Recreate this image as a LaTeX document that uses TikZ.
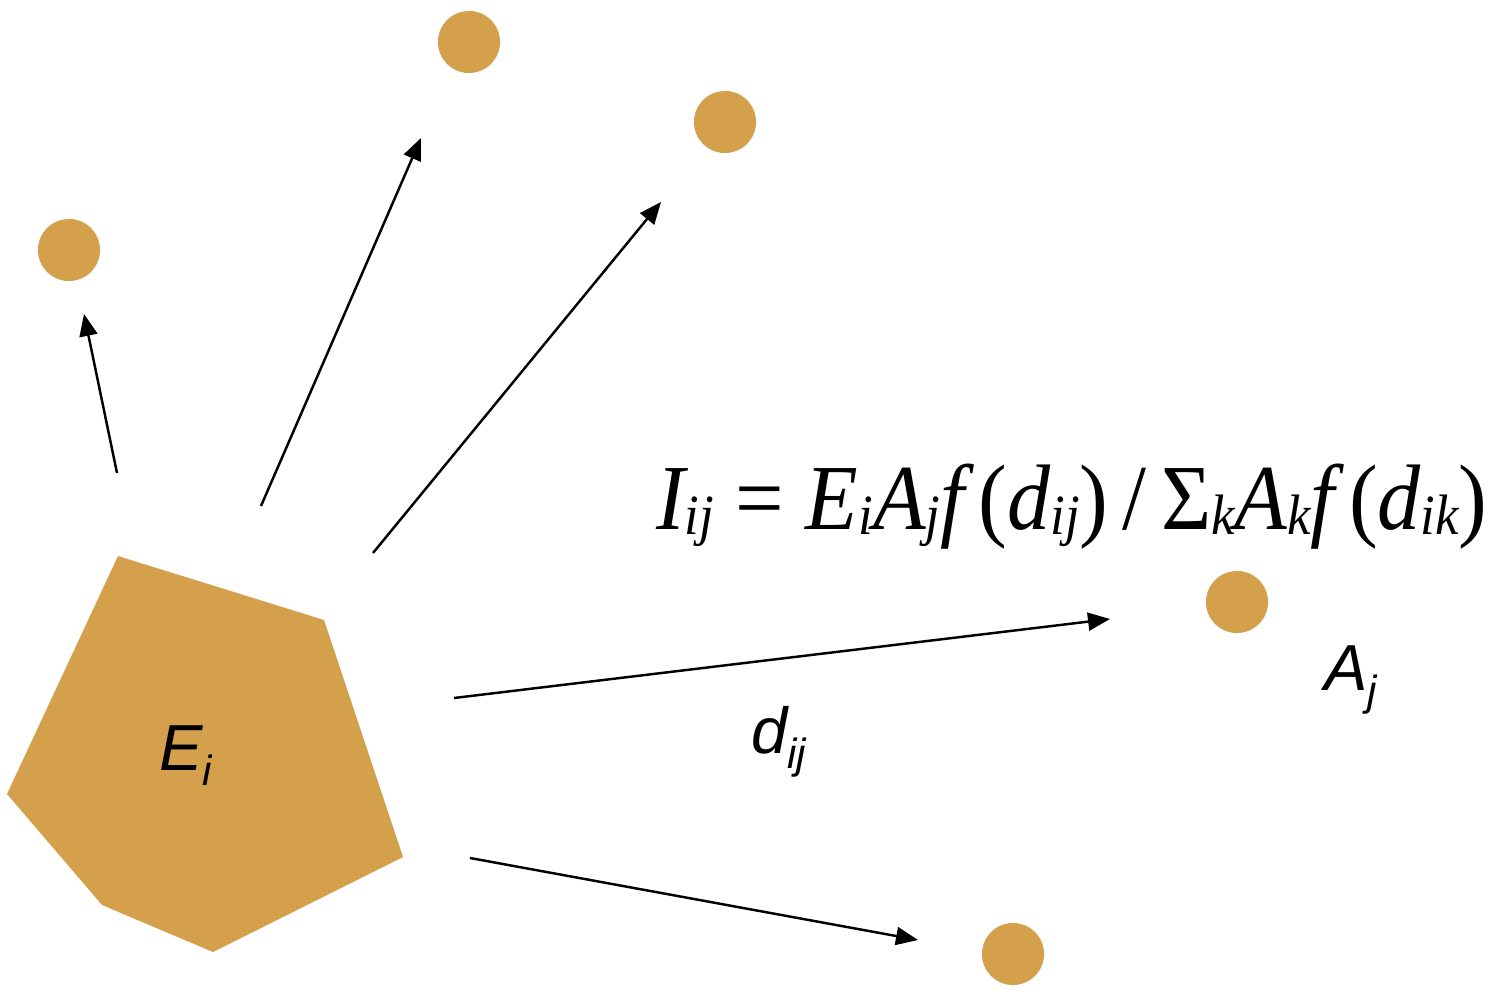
\documentclass[tikz,border=0pt]{standalone}
\usepackage{fontspec}
\setmainfont{Liberation Serif}
\newfontfamily\labelfont{Liberation Sans}
\usetikzlibrary{arrows.meta}

\definecolor{ochre}{RGB}{212,160,76}
\newcommand{\sbsc}[1]{{\fontsize{15}{15}\selectfont\raisebox{-0.08em}{#1}}}
\newcommand{\lsbsc}[1]{{\fontsize{12}{12}\selectfont\raisebox{-4.5pt}{#1}}}

\begin{document}
\begin{tikzpicture}[x=0.01cm,y=-0.01cm,
	-{Triangle[length=0.22cm,width=0.18cm]},line width=0.7pt]
	\tikzset{dot/.style={circle,fill=ochre,draw=none,minimum size=0.62cm,inner sep=0pt},
		lbl/.style={font=\labelfont\itshape\fontsize{18.5}{20}\selectfont,inner sep=0pt,anchor=base west}}
	\useasboundingbox (0,0) rectangle (1495,992);
	% zone i
	\fill[ochre] (118,556) -- (324,620) -- (403,857) -- (213,952) -- (102,905) -- (7,794) -- cycle;
	\node[lbl] (E) at (158,770) {E\lsbsc{i}};
	% destinations
	\node[dot] (A1) at (69,250) {};
	\node[dot] (A2) at (469,42) {};
	\node[dot] (A3) at (725,122) {};
	\node[dot] (A4) at (1237,602) {};
	\node[dot] (A5) at (1013,954) {};
	% arrows
	\coordinate (s1) at (117,473); \coordinate (e1) at (84,314);
	\coordinate (s2) at (261,506); \coordinate (e2) at (421,138);
	\coordinate (s3) at (373,553); \coordinate (e3) at (661,202);
	\coordinate (s4) at (454,698); \coordinate (e4) at (1110,619);
	\coordinate (s5) at (470,858); \coordinate (e5) at (918,940);
	\foreach \k in {1,...,5}
		\draw (s\k) -- (e\k);
	% labels
	\node[lbl] (d) at (750,753) {d\lsbsc{ij}};
	\node[lbl] (Aj) at (1323,690) {A\lsbsc{j}};
	\node[anchor=base west,inner sep=0pt,yscale=1.08,font=\fontsize{24.5}{26}\selectfont] (formula) at (655,530)
		{\itshape I\sbsc{ij} \textup{=} E\sbsc{i}A\sbsc{j}f\,\textup{(}d\sbsc{ij}\textup{)}\,\textup{/}\,\textup{Σ}\sbsc{k}A\sbsc{k}f\,\textup{(}d\sbsc{ik}\textup{)}};
\end{tikzpicture}
\end{document}
